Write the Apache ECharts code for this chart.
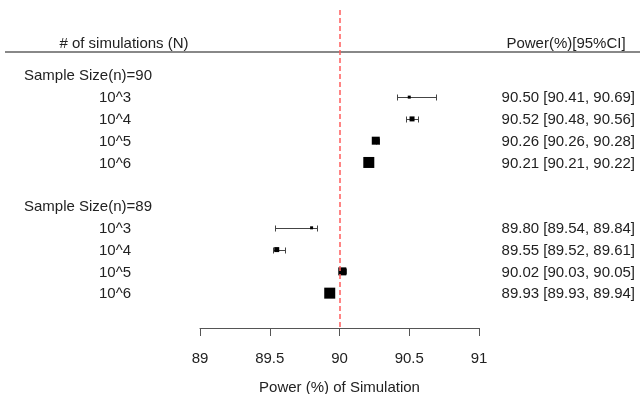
<!DOCTYPE html>
<html>
<head>
<meta charset="utf-8">
<script src="https://cdn.jsdelivr.net/npm/echarts@6/dist/echarts.min.js"></script>
<style>
html,body{margin:0;padding:0;background:#fff;}
#chart{width:640px;height:394px;}
</style>
</head>
<body>
<div id="chart"></div>
<script>
// ---- data ----
var groupLabels = ['Sample Size(n)=90', 'Sample Size(n)=89'];
var groupRows = [0, 6];
var simLabels = ['10^3', '10^4', '10^5', '10^6', '10^3', '10^4', '10^5', '10^6'];
var simRows = [1, 2, 3, 4, 7, 8, 9, 10];
var estimates = [90.50, 90.52, 90.26, 90.21, 89.80, 89.55, 90.02, 89.93];
var lower =     [90.41, 90.48, 90.26, 90.21, 89.54, 89.52, 90.03, 89.93];
var upper =     [90.69, 90.56, 90.28, 90.22, 89.84, 89.61, 90.05, 89.94];
var boxSizes =  [3, 5, 8, 11, 3, 5, 8, 11];
var ciTexts = ['90.50 [90.41, 90.69]', '90.52 [90.48, 90.56]', '90.26 [90.26, 90.28]', '90.21 [90.21, 90.22]',
               '89.80 [89.54, 89.84]', '89.55 [89.52, 89.61]', '90.02 [90.03, 90.05]', '89.93 [89.93, 89.94]'];
var xTicks = [89, 89.5, 90, 90.5, 91];
var refValue = 90;
var headerLeft = '# of simulations (N)';
var headerRight = 'Power(%)[95%CI]';
var xTitle = 'Power (%) of Simulation';

var FONT = 'Liberation Sans, Arial, sans-serif';
var TXT = '#222';

var forestData = estimates.map(function (e, i) {
  return [e, lower[i], upper[i], simRows[i], boxSizes[i]];
});

var textData = [];
groupLabels.forEach(function (t, i) { textData.push([groupRows[i], t, 'group']); });
simLabels.forEach(function (t, i) { textData.push([simRows[i], t, 'sim']); });
ciTexts.forEach(function (t, i) { textData.push([simRows[i], t, 'ci']); });
textData.push([-1.5, headerLeft, 'hl']);
textData.push([-1.5, headerRight, 'hr']);

var chart = echarts.init(document.getElementById('chart'));
chart.setOption({
  animation: false,
  backgroundColor: '#fff',
  grid: { left: 200, right: 161, top: 10, bottom: 66, containLabel: false, outerBoundsMode: 'none' },
  xAxis: {
    type: 'value', min: xTicks[0], max: xTicks[xTicks.length - 1], interval: 0.5,
    position: 'bottom',
    axisLine: { show: true, onZero: false, lineStyle: { color: '#555', width: 1 } },
    axisTick: { show: true, length: 8, inside: false, lineStyle: { color: '#555', width: 1 } },
    axisLabel: { color: TXT, fontSize: 15, fontFamily: FONT, margin: 23 },
    splitLine: { show: false },
    name: xTitle, nameLocation: 'middle', nameGap: 52,
    nameTextStyle: { color: TXT, fontSize: 15, fontFamily: FONT }
  },
  yAxis: { type: 'value', inverse: true, min: -3, max: 11.6, show: false },
  graphic: [{
    type: 'line', shape: { x1: 5, y1: 52, x2: 640, y2: 52 },
    style: { stroke: '#888', lineWidth: 2 }
  }],
  series: [
    {
      type: 'custom',
      data: forestData,
      renderItem: function (params, api) {
        var lo = api.coord([api.value(1), api.value(3)]);
        var hi = api.coord([api.value(2), api.value(3)]);
        var c = api.coord([api.value(0), api.value(3)]);
        var s = api.value(4);
        var y = Math.round(c[1]) + 0.5;
        var lx = Math.round(lo[0]) + 0.5, hx = Math.round(hi[0]) + 0.5;
        var st = { stroke: '#444', lineWidth: 1 };
        return {
          type: 'group',
          children: [
            { type: 'line', shape: { x1: lx, y1: y, x2: hx, y2: y }, style: st },
            { type: 'line', shape: { x1: lx, y1: y - 3, x2: lx, y2: y + 3 }, style: st },
            { type: 'line', shape: { x1: hx, y1: y - 3, x2: hx, y2: y + 3 }, style: st },
            { type: 'rect', shape: { x: c[0] - s / 2, y: c[1] - s / 2, width: s, height: s }, style: { fill: '#000' } }
          ]
        };
      },
      markLine: {
        silent: true, symbol: 'none',
        label: { show: false },
        emphasis: { disabled: true },
        lineStyle: { color: '#ff5c5c', type: [5, 3], width: 1.5, opacity: 1 },
        data: [{ xAxis: refValue }]
      },
      z: 3
    },
    {
      type: 'custom',
      data: textData,
      renderItem: function (params, api) {
        var y = api.coord([90, api.value(0)])[1] + 1;
        var kind = textData[params.dataIndex][2];
        var txt = textData[params.dataIndex][1];
        var x, align;
        if (kind === 'group') { x = 24; align = 'left'; }
        else if (kind === 'sim') { x = 115; align = 'center'; }
        else if (kind === 'ci') { x = 635; align = 'right'; }
        else if (kind === 'hl') { x = 124; align = 'center'; }
        else { x = 566; align = 'center'; }
        return {
          type: 'text',
          x: x, y: y,
          style: { text: txt, fill: TXT, font: '15px ' + FONT, align: align, verticalAlign: 'middle' }
        };
      }
    }
  ]
});
</script>
</body>
</html>
